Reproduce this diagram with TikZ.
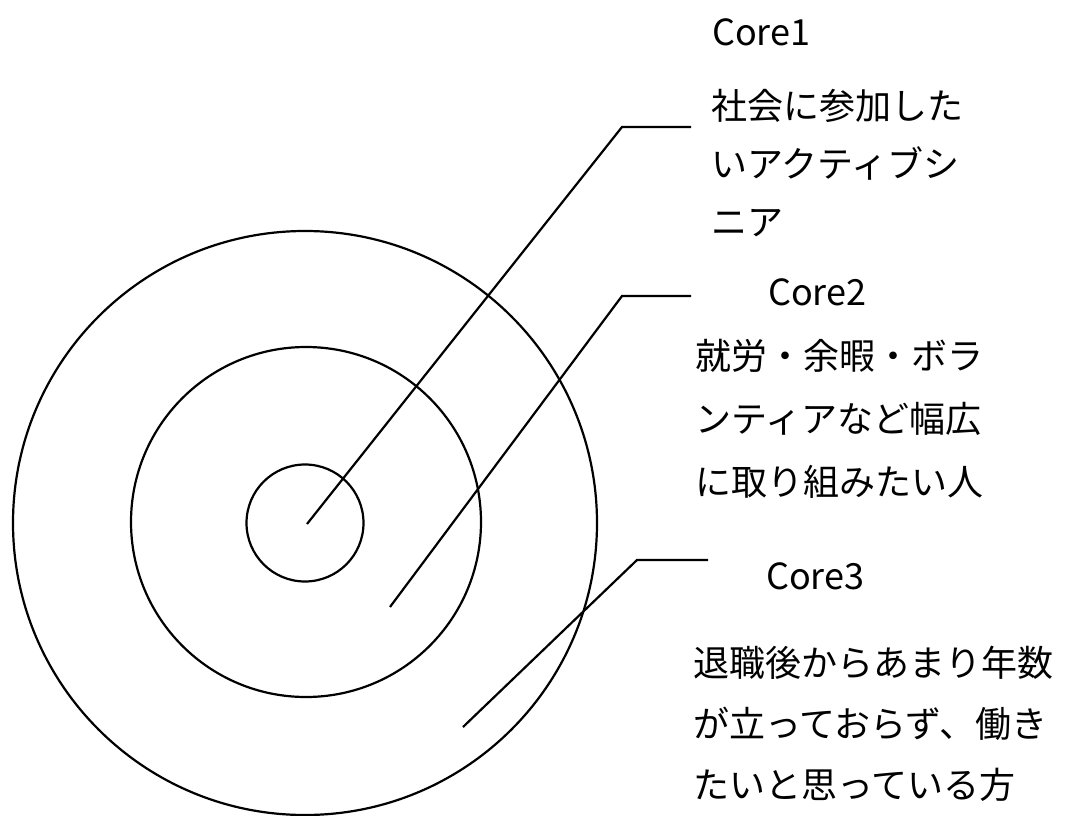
\documentclass[tikz,border=0pt]{standalone}
\usepackage{fontspec}
\setmainfont{Noto Sans CJK JP}
\newfontfamily\cjk{Noto Sans CJK JP}
\begin{document}
\begin{tikzpicture}[x=1pt,y=-1pt,
  ring/.style={circle,draw,line width=2.2pt,inner sep=0pt},
  lead/.style={line width=2.2pt},
  lbl/.style={font=\cjk\fontsize{36}{36}\selectfont,inner sep=0pt,anchor=west},
  body/.style={font=\cjk\fontsize{36}{#1}\selectfont,inner sep=0pt,anchor=north west,align=left}]
\useasboundingbox (0,0) rectangle (1072,816);
\node[ring,minimum size=584pt] (outer) at (305,523) {};
\node[ring,minimum size=350pt] (middle) at (306,522) {};
\node[ring,minimum size=117pt] (inner) at (305,523) {};
% leaders
\coordinate (a1) at (307,524);
\coordinate (b1) at (622,127);
\coordinate (c1) at (691,127);
\coordinate (a2) at (390,607);
\coordinate (b2) at (622,296);
\coordinate (c2) at (691,296);
\coordinate (a3) at (463,727);
\coordinate (b3) at (637,560);
\coordinate (c3) at (708,560);
\draw[lead] (a1) -- (b1) -- (c1);
\draw[lead] (a2) -- (b2) -- (c2);
\draw[lead] (a3) -- (b3) -- (c3);
% labels
\node[lbl] (core1) at (712,32) {Core1};
\node[lbl] (core2) at (768,292) {Core2};
\node[lbl] (core3) at (766,576) {Core3};
\node[body=58] (t1) at (711,89) {社会に参加した\\いアクティブシ\\ニア};
\node[body=63] (t2) at (695,339) {就労・余暇・ボラ\\ンティアなど幅広\\に取り組みたい人};
\node[body=61] (t3) at (693,646) {退職後からあまり年数\\が立っておらず、働き\\たいと思っている方};
\end{tikzpicture}
\end{document}
